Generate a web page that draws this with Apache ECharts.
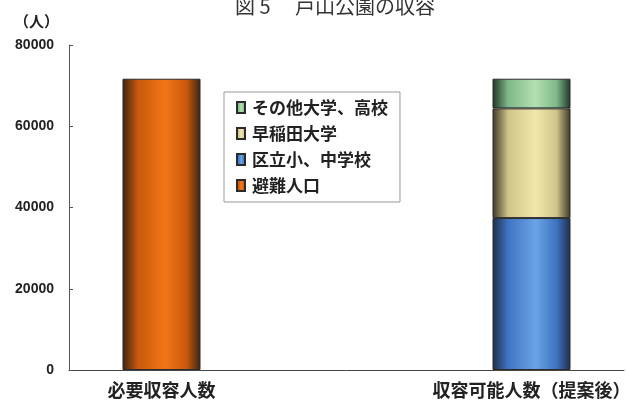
<!DOCTYPE html>
<html>
<head>
<meta charset="utf-8">
<script src="https://cdn.jsdelivr.net/npm/echarts@6/dist/echarts.min.js"></script>
<style>
  html, body { margin: 0; padding: 0; background: #fff; }
  #main { width: 626px; height: 403px; }
</style>
</head>
<body>
<div id="main"></div>
<script>
// 図5 戸山公園の収容
var categories = ['必要収容人数', '', '収容可能人数（提案後）'];
var yTicks = [0, 20000, 40000, 60000, 80000];

// 各系列の値（人）
var hinanJinko = [71700, '-', '-'];     // 避難人口
var kuritsu = ['-', '-', 37400];        // 区立小、中学校
var waseda = ['-', '-', 27000];         // 早稲田大学
var sonota = ['-', '-', 7300];          // その他大学、高校

var legendNames = ['その他大学、高校', '早稲田大学', '区立小、中学校', '避難人口'];

// 円柱っぽいグラデーション
function cyl(edge, mid, light){
  return new echarts.graphic.LinearGradient(0, 0, 1, 0, [
    {offset: 0, color: edge},
    {offset: 0.2, color: mid},
    {offset: 0.55, color: light},
    {offset: 0.82, color: mid},
    {offset: 1, color: edge}
  ]);
}

var font = '"Noto Sans CJK JP", "Liberation Sans", sans-serif';
var numFont = '"Liberation Sans", Arial, sans-serif';

function barSeries(name, data, color){
  return {
    name: name,
    type: 'bar',
    stack: 'total',
    barWidth: 78,
    data: data,
    itemStyle: {
      color: color,
      borderColor: '#2b2b2b',
      borderWidth: 1
    }
  };
}

var chart = echarts.init(document.getElementById('main'));
var option = {
  backgroundColor: '#ffffff',
  animation: false,
  textStyle: { fontFamily: font },
  title: {
    text: '図 5　 戸山公園の収容',
    left: 230,
    top: -9,
    textStyle: { fontSize: 20, fontWeight: 'normal', color: '#333', fontFamily: font }
  },
  legend: {
    data: legendNames,
    orient: 'vertical',
    left: 224,
    top: 92,
    padding: [7, 12, 8, 12],
    itemGap: 9,
    itemWidth: 8,
    itemHeight: 11,
    icon: 'rect',
    borderColor: '#999',
    borderWidth: 1,
    textStyle: { fontSize: 17, fontWeight: 'bold', color: '#222', fontFamily: font, padding: [0, 0, 0, 2] }
  },
  grid: { left: 69, right: 2, top: 45, bottom: 33, outerBoundsMode: 'none' },
  xAxis: {
    type: 'category',
    data: categories,
    axisLine: { lineStyle: { color: '#444', width: 1 } },
    axisTick: { inside: true, length: 6, lineStyle: { color: '#444' } },
    axisLabel: { fontSize: 18, fontWeight: 'bold', color: '#222', margin: 11, fontFamily: font, hideOverlap: false }
  },
  yAxis: {
    type: 'value',
    min: yTicks[0],
    max: yTicks[yTicks.length - 1],
    interval: 20000,
    name: '（人）',
    nameGap: 16,
    nameTextStyle: { fontSize: 15, fontWeight: 'bold', color: '#222', align: 'right', padding: [0, 10, 0, 0] },
    axisLine: { show: true, lineStyle: { color: '#555', width: 1 } },
    axisTick: { show: true, inside: true, length: 4, lineStyle: { color: '#555' } },
    splitLine: { show: false },
    axisLabel: {
      fontSize: 14, fontWeight: 'bold', color: '#222', margin: 15, fontFamily: numFont,
      formatter: function(v){ return String(v); }
    }
  },
  series: [
    barSeries('避難人口', hinanJinko, cyl('#3a2614', '#c9590c', '#f27616')),
    barSeries('区立小、中学校', kuritsu, cyl('#1f2f4a', '#3f74c2', '#6aa4e6')),
    barSeries('早稲田大学', waseda, cyl('#3b3826', '#cfc48a', '#f1e8ae')),
    barSeries('その他大学、高校', sonota, cyl('#1f3526', '#7fb88a', '#b4e0b0'))
  ]
};
chart.setOption(option);
</script>
</body>
</html>
